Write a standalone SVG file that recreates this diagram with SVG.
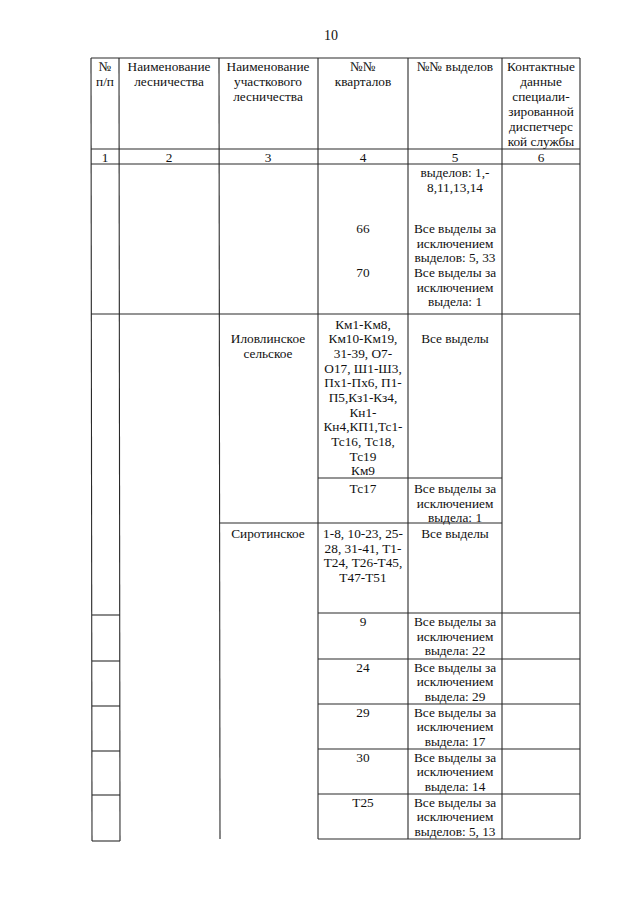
<svg xmlns="http://www.w3.org/2000/svg" width="640" height="905" viewBox="0 0 640 905">
<style>
text{font-family:"Liberation Serif","Times New Roman",serif;font-size:13.3px;fill:#111;text-anchor:middle}
.pg{font-size:14px}
.ln line{stroke:#2a2a2a;stroke-width:1.1}
</style>
<rect width="640" height="905" fill="#fff"/>
<text class="pg" x="331" y="40">10</text>
<g id="grid" class="ln">
<line x1="91" y1="58" x2="580" y2="58"/>
<line x1="91" y1="149" x2="580" y2="149"/>
<line x1="91" y1="164" x2="580" y2="164"/>
<line x1="91" y1="314" x2="580" y2="314"/>
<line x1="91" y1="58" x2="92" y2="841"/>
<line x1="119" y1="58" x2="120" y2="841"/>
<line x1="219" y1="58" x2="220" y2="839"/>
<line x1="318" y1="58" x2="318" y2="839"/>
<line x1="408" y1="58" x2="408" y2="839"/>
<line x1="502" y1="58" x2="502" y2="839"/>
<line x1="580" y1="58" x2="580" y2="839"/>
<line x1="318" y1="478" x2="502" y2="478"/>
<line x1="219" y1="523" x2="502" y2="523"/>
<line x1="318" y1="613" x2="580" y2="613"/>
<line x1="318" y1="659" x2="580" y2="659"/>
<line x1="318" y1="704" x2="580" y2="704"/>
<line x1="318" y1="749" x2="580" y2="749"/>
<line x1="318" y1="794" x2="580" y2="794"/>
<line x1="318" y1="839" x2="580" y2="839"/>
<line x1="92" y1="615" x2="120" y2="615"/>
<line x1="92" y1="661" x2="120" y2="661"/>
<line x1="92" y1="706" x2="120" y2="706"/>
<line x1="92" y1="751" x2="120" y2="751"/>
<line x1="92" y1="795" x2="120" y2="795"/>
<line x1="92" y1="841" x2="120" y2="841"/>
</g>
<g id="header">
<text x="105" y="71">№</text>
<text x="105" y="86">п/п</text>
<text x="169" y="71">Наименование</text>
<text x="169" y="86">лесничества</text>
<text x="268" y="71">Наименование</text>
<text x="268" y="86">участкового</text>
<text x="268" y="101">лесничества</text>
<text x="363" y="71">№№</text>
<text x="363" y="86">кварталов</text>
<text x="455" y="71">№№ выделов</text>
<text x="541" y="71">Контактные</text>
<text x="541" y="86">данные</text>
<text x="541" y="101">специали-</text>
<text x="541" y="116">зированной</text>
<text x="541" y="131">диспетчерс</text>
<text x="541" y="146">кой службы</text>
</g>
<g id="colnums">
<text x="105" y="161.5">1</text>
<text x="169" y="161.5">2</text>
<text x="268" y="161.5">3</text>
<text x="363" y="161.5">4</text>
<text x="455" y="161.5">5</text>
<text x="541" y="161.5">6</text>
</g>
<g id="row1">
<text x="455" y="176.5">выделов: 1,-</text>
<text x="455" y="191.5">8,11,13,14</text>
<text x="363" y="232.5">66</text>
<text x="455" y="232.5">Все выделы за</text>
<text x="455" y="247.5">исключением</text>
<text x="455" y="262">выделов: 5, 33</text>
<text x="363" y="276.5">70</text>
<text x="455" y="276.5">Все выделы за</text>
<text x="455" y="291.5">исключением</text>
<text x="455" y="305.5">выдела: 1</text>
</g>
<g id="ilovlinskoe">
<text x="268" y="343">Иловлинское</text>
<text x="268" y="358">сельское</text>
<text x="363" y="328.5">Км1-Км8,</text>
<text x="363" y="343">Км10-Км19,</text>
<text x="363" y="358">31-39, О7-</text>
<text x="363" y="372.5">О17, Ш1-Ш3,</text>
<text x="363" y="387">Пх1-Пх6, П1-</text>
<text x="363" y="402">П5,Кз1-Кз4,</text>
<text x="363" y="416.5">Кн1-</text>
<text x="363" y="431">Кн4,КП1,Тс1-</text>
<text x="363" y="446">Тс16, Тс18,</text>
<text x="363" y="460.5">Тс19</text>
<text x="363" y="475">Км9</text>
<text x="455" y="343">Все выделы</text>
<text x="363" y="492.5">Тс17</text>
<text x="455" y="492.5">Все выделы за</text>
<text x="455" y="507.5">исключением</text>
<text x="455" y="521.5">выдела: 1</text>
</g>
<g id="sirotinskoe">
<text x="268" y="537.5">Сиротинское</text>
<text x="363" y="537.5">1-8, 10-23, 25-</text>
<text x="363" y="552.5">28, 31-41,  Т1-</text>
<text x="363" y="567">Т24, Т26-Т45,</text>
<text x="363" y="581.5">Т47-Т51</text>
<text x="455" y="537.5">Все выделы</text>
</g>
<g id="q9">
<text x="363" y="625.5">9</text>
<text x="455" y="625.5">Все выделы за</text>
<text x="455" y="640.5">исключением</text>
<text x="455" y="655">выдела: 22</text>
</g>
<g id="q24">
<text x="363" y="671.5">24</text>
<text x="455" y="671.5">Все выделы за</text>
<text x="455" y="686">исключением</text>
<text x="455" y="700.5">выдела: 29</text>
</g>
<g id="q29">
<text x="363" y="716.5">29</text>
<text x="455" y="716.5">Все выделы за</text>
<text x="455" y="731">исключением</text>
<text x="455" y="745.5">выдела: 17</text>
</g>
<g id="q30">
<text x="363" y="761.5">30</text>
<text x="455" y="761.5">Все выделы за</text>
<text x="455" y="776">исключением</text>
<text x="455" y="790.5">выдела: 14</text>
</g>
<g id="qT25">
<text x="363" y="806.5">Т25</text>
<text x="455" y="806.5">Все выделы за</text>
<text x="455" y="821">исключением</text>
<text x="455" y="835.5">выделов: 5, 13</text>
</g>
</svg>
